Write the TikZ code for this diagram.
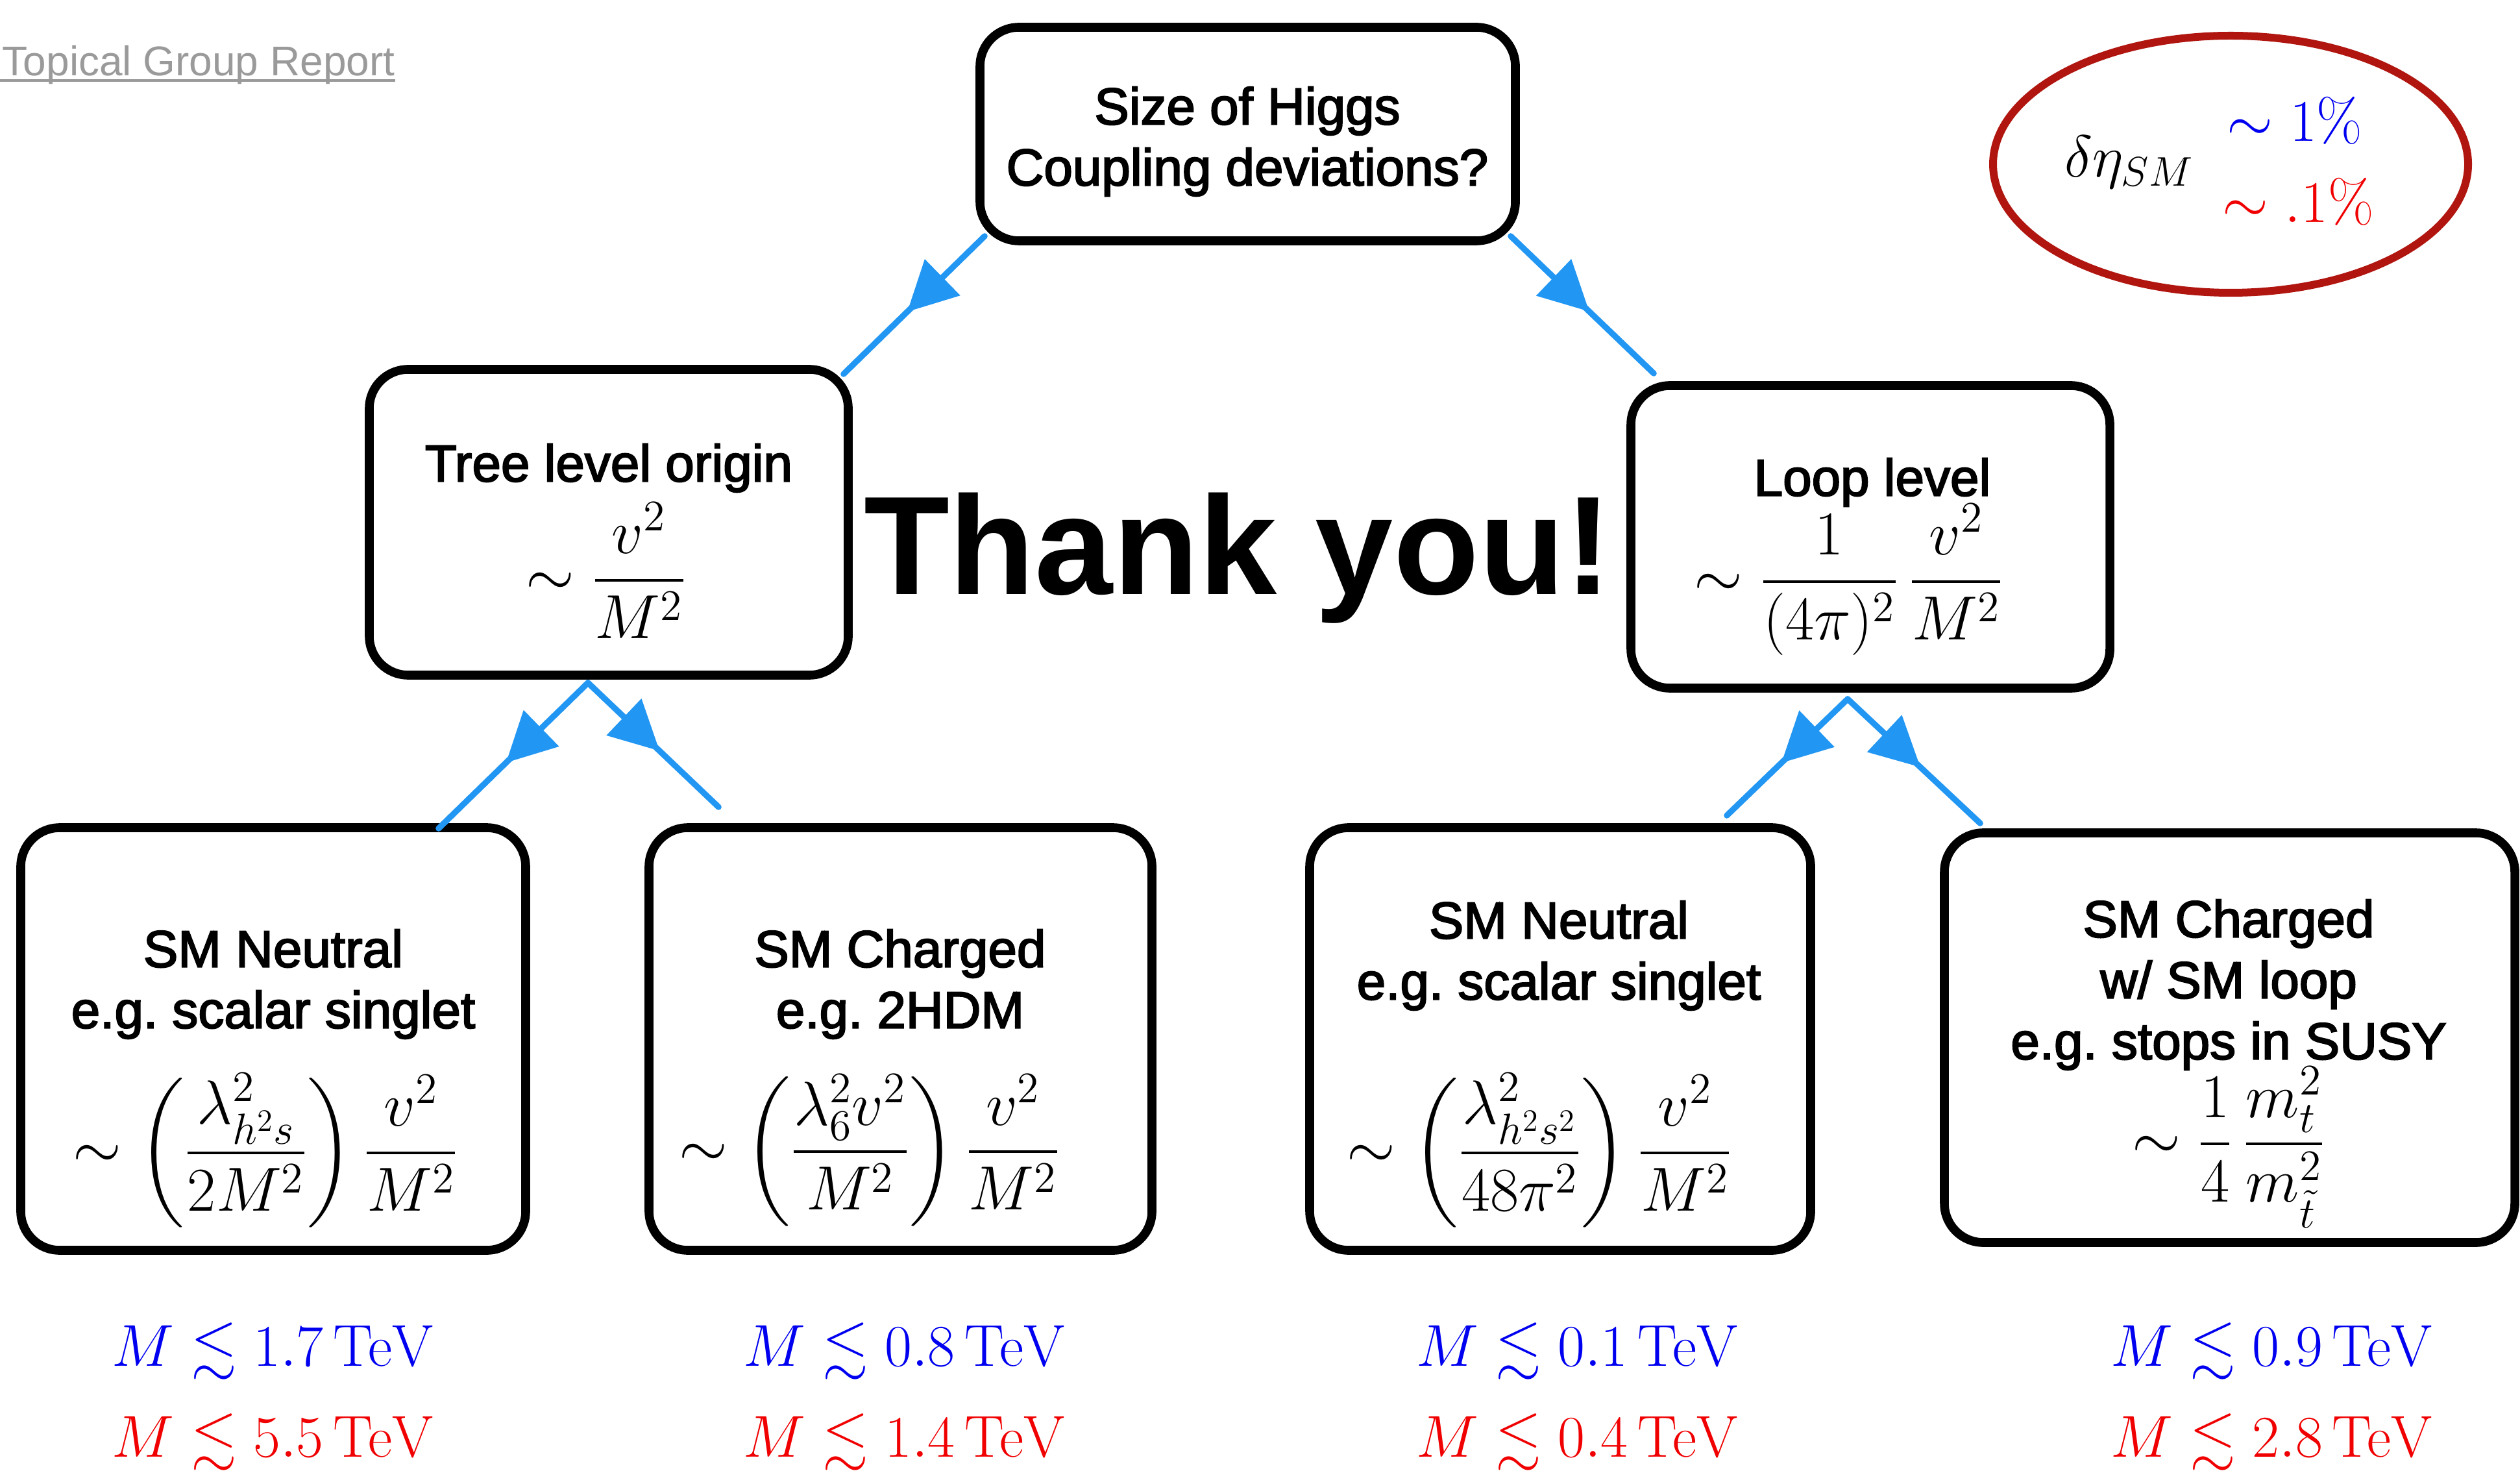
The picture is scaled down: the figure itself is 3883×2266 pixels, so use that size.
\RequirePackage{fix-cm}
\documentclass[tikz,border=0pt]{standalone}
\usepackage[no-math]{fontspec}
\usepackage{amsmath,amssymb}
\newfontfamily\hvm{Liberation Sans}[FakeBold=2.6]
\newfontfamily\hv{Liberation Sans}
\usetikzlibrary{shapes.geometric,arrows.meta,decorations.markings,calc}
\definecolor{arrowblue}{HTML}{2196F3}
\definecolor{ringred}{HTML}{B0150F}
\definecolor{graytxt}{HTML}{9A9A9A}
\definecolor{mblue}{HTML}{0000F0}
\definecolor{mred}{HTML}{F00000}
\tikzset{
  box/.style={draw=black, line width=3.4pt, rounded corners=15pt, inner sep=0pt},
  lbl/.style={font=\hvm\frenchspacing\fontsize{20}{23.5}\selectfont, align=center, inner sep=0pt},
  frm/.style={font=\fontsize{24}{28}\selectfont, inner sep=0pt},
  lim/.style={font=\fontsize{22.8}{27}\selectfont, inner sep=0pt},
  conn/.style={arrowblue, line width=2.3pt, line cap=round, postaction={decorate},
    decoration={markings, mark=at position 0.55 with {\arrow{Triangle[length=19pt,width=19pt]}}}}
}
\begin{document}
\begin{tikzpicture}[x=0.25pt,y=-0.25pt]
\useasboundingbox (0,0) rectangle (3883,2266);
% header
\node[font=\hv\fontsize{16}{19}\selectfont, text=graytxt, anchor=base west, inner sep=0pt] (topical) at (3,117) {Topical Group Report};
\draw[graytxt, line width=1pt] ($(topical.base west)+(-3,7)$) -- ($(topical.base east)+(0,7)$);
% boxes
\node[box, minimum width=206.25pt, minimum height=82.25pt] (top) at (1922.5,206.5) {};
\node[box, minimum width=184.5pt, minimum height=117.75pt] (tree) at (938,804.5) {};
\node[box, minimum width=184.5pt, minimum height=116.5pt] (loop) at (2882,827) {};
\node[box, minimum width=194.5pt, minimum height=162.75pt] (b1) at (421,1600.5) {};
\node[box, minimum width=193.75pt, minimum height=162.75pt] (b2) at (1387.5,1600.5) {};
\node[box, minimum width=193pt, minimum height=162.75pt] (b3) at (2404,1600.5) {};
\node[box, minimum width=219.75pt, minimum height=157.75pt] (b4) at (3435.5,1598.5) {};
% box texts
\node[lbl] (toptext) at (1922,218) {Size of Higgs\\Coupling deviations?};
\node[lbl] (treetext) at (938,721) {Tree level origin};
\node[frm] (treef) at (934,879) {$\displaystyle\sim\frac{v^2}{M^2}$};
\node[lbl] (looptext) at (2885,743) {Loop level};
\node[frm] (loopf) at (2849,893) {$\displaystyle\sim\frac{1}{(4\pi)^2}\,\frac{v^2}{M^2}$};
\node[lbl] (b1text) at (421,1516) {SM Neutral\\e.g. scalar singlet};
\node[frm] (b1f) at (409,1772) {$\displaystyle\sim\left(\frac{\lambda^2_{h^2 s}}{2M^2}\right)\frac{v^2}{M^2}$};
\node[lbl] (b2text) at (1387,1516) {SM Charged\\e.g. 2HDM};
\node[frm] (b2f) at (1340,1772) {$\displaystyle\sim\left(\frac{\lambda_6^2 v^2}{M^2}\right)\frac{v^2}{M^2}$};
\node[lbl] (b3text) at (2402,1472) {SM Neutral\\e.g. scalar singlet};
\node[frm] (b3f) at (2372,1772) {$\displaystyle\sim\left(\frac{\lambda^2_{h^2 s^2}}{48\pi^2}\right)\frac{v^2}{M^2}$};
\node[lbl] (b4text) at (3434,1517) {SM Charged\\w/ SM loop\\e.g. stops in SUSY};
\node[frm] (b4f) at (3434,1767) {$\displaystyle\sim\frac{1}{4}\,\frac{m_t^2}{m_{\tilde t}^2}$};
% thank you
\node[font=\hv\bfseries\fontsize{54}{60}\selectfont, anchor=base, inner sep=0pt] (thanks) at (1907,916) {Thank you!};
% ring
\node[ellipse, draw=ringred, line width=3pt, minimum width=183pt, minimum height=99pt, inner sep=0pt] (ring) at (3437,253) {};
\node[lim] (deta) at (3281,250) {$\delta\eta_{SM}$};
\node[lim, text=mblue] (one) at (3536,186) {$\sim 1\%$};
\node[lim, text=mred] (tenth) at (3541,311) {$\sim .1\%$};
% limits
\node[lim, text=mblue] (l1a) at (421,2082) {$M\lesssim 1.7\,\mathrm{TeV}$};
\node[lim, text=mred] (l1b) at (421,2222) {$M\lesssim 5.5\,\mathrm{TeV}$};
\node[lim, text=mblue] (l2a) at (1394,2082) {$M\lesssim 0.8\,\mathrm{TeV}$};
\node[lim, text=mred] (l2b) at (1394,2222) {$M\lesssim 1.4\,\mathrm{TeV}$};
\node[lim, text=mblue] (l3a) at (2431,2082) {$M\lesssim 0.1\,\mathrm{TeV}$};
\node[lim, text=mred] (l3b) at (2431,2222) {$M\lesssim 0.4\,\mathrm{TeV}$};
\node[lim, text=mblue] (l4a) at (3501,2082) {$M\lesssim 0.9\,\mathrm{TeV}$};
\node[lim, text=mred] (l4b) at (3501,2222) {$M\lesssim 2.8\,\mathrm{TeV}$};
% connectors
\coordinate (treeout) at ($(tree.south)+(-32,5)$);
\coordinate (loopout) at ($(loop.south)+(-35,10)$);
\draw[conn] ($(top.south west)+(14,-14)$) -- ($(tree.north east)+(-14,14)$);
\draw[conn] ($(top.south east)+(-14,-14)$) -- ($(loop.north west)+(42,-12)$);
\draw[conn] (treeout) -- ($(b1.north east)+(-141,8)$);
\draw[conn] (treeout) -- ($(b2.north west)+(114,-25)$);
\draw[conn] (loopout) -- ($(b3.north east)+(-136,-12)$);
\draw[conn] (loopout) -- ($(b4.north west)+(62,-8)$);
\end{tikzpicture}
\end{document}
